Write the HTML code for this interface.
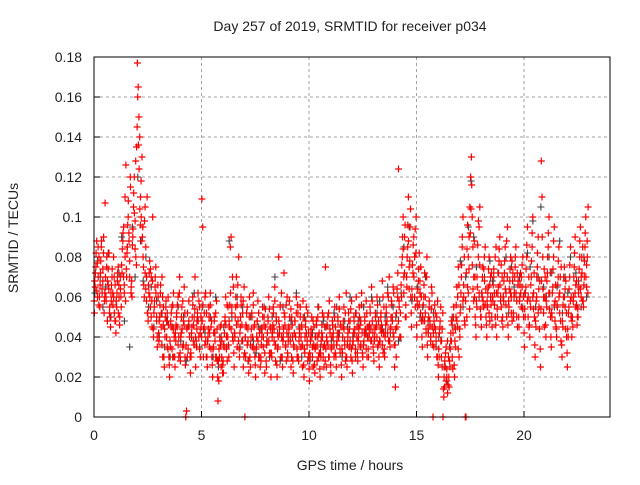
<!DOCTYPE html>
<html><head><meta charset="utf-8"><style>
body{margin:0;background:#fff}
svg text{font-family:"Liberation Sans",sans-serif;font-size:14px;fill:#222}
</style></head><body>
<svg width="640" height="480" id="c">
<text x="350" y="31" text-anchor="middle">Day 257 of 2019, SRMTID for receiver p034</text>
<text x="350" y="470" text-anchor="middle">GPS time / hours</text>
<text transform="translate(18,238) rotate(-90)" text-anchor="middle">SRMTID / TECUs</text>
</svg>
<script>
const binStarts=[0,0.25,0.5,0.75,1,1.25,1.5,1.75,2,2.25,2.5,2.75,3,3.25,3.5,3.75,4,4.25,4.5,4.75,5,5.25,5.5,5.75,6,6.25,6.5,6.75,7,7.25,7.5,7.75,8,8.25,8.5,8.75,9,9.25,9.5,9.75,10,10.25,10.5,10.75,11,11.25,11.5,11.75,12,12.25,12.5,12.75,13,13.25,13.5,13.75,14,14.25,14.5,14.75,15,15.25,15.5,15.75,16,16.25,16.5,16.75,17,17.25,17.5,17.75,18,18.25,18.5,18.75,19,19.25,19.5,19.75,20,20.25,20.5,20.75,21,21.25,21.5,21.75,22,22.25,22.5,22.75];
const redVals=[
[52,65,75,88,60,70,80],[55,72,85,62,68,90,58],[107,60,75,48,66,82,55],[45,58,70,62,80,52,66],
[42,55,68,75,60,50,64],[55,72,88,95,62,80,126],[70,85,100,92,78,115,65],[60,90,105,120,98,80,135],
[177,165,150,140,110,100,130],[95,75,60,105,85,70,52],[48,62,78,55,70,45,100],[40,55,65,75,50,35,60],
[38,50,62,45,70,30,55],[25,40,55,48,35,60,30],[20,35,45,55,30,62,40],[25,38,50,45,60,30,70],
[28,42,55,35,48,65,30],[0,3,30,45,58,40,22],[30,45,60,38,50,70,25],[35,48,62,40,55,30,45],
[109,95,30,45,60,38,52],[25,40,55,35,62,45,30],[20,35,50,42,30,58,28],[8,18,30,45,25,38,22],
[22,35,48,60,40,28,55],[30,45,85,90,55,40,65],[25,40,55,70,35,48,80],[30,45,60,38,52,25,65],
[0,30,45,55,38,22,60],[25,40,52,35,62,45,30],[20,35,48,58,30,42,25],[28,40,55,35,50,22,45],
[25,38,50,60,32,45,20],[30,42,55,38,65,28,48],[20,35,80,45,55,30,40],[25,40,72,50,35,28,60],
[30,45,58,38,25,50,40],[22,35,48,40,60,30,52],[28,42,55,35,45,25,50],[20,32,45,55,38,28,42],
[18,30,42,50,35,25,45],[22,35,48,28,40,55,32],[20,30,42,52,35,25,45],[75,25,38,50,30,58,42],
[22,35,48,40,30,55,45],[25,38,50,42,60,32,45],[20,32,45,55,38,28,62],[25,40,52,35,48,30,58],
[22,38,50,42,30,60,45],[28,40,55,35,48,62,32],[25,38,50,42,58,30,45],[30,42,55,38,65,48,35],
[28,40,52,45,60,35,48],[25,38,50,42,68,32,55],[30,42,55,48,62,38,70],[35,45,58,50,65,40,25],
[15,30,45,60,124,55,40],[40,60,80,100,70,90,50],[50,65,85,110,75,95,60],[45,60,72,90,80,55,100],
[40,55,68,82,62,75,48],[35,48,60,72,52,42,80],[30,42,55,48,38,65,45],[0,35,45,52,40,30,58],
[20,30,45,55,38,25,0],[10,15,25,35,20,12,30],[15,25,38,48,30,42,55],[20,35,50,65,45,75,30],
[40,55,70,85,100,60,48],[0,0,50,65,80,90,105],[120,130,100,85,70,60,50],[40,55,65,80,95,105,50],
[45,60,75,55,68,85,50],[40,55,65,80,48,60,72],[45,58,70,62,50,85,40],[50,65,78,90,60,55,70],
[45,58,72,85,62,50,95],[40,55,68,80,60,48,72],[50,62,75,85,58,45,68],[45,60,72,55,65,80,50],
[35,50,65,80,95,60,45],[40,55,70,85,100,62,50],[30,45,60,75,90,55,68],[25,128,110,80,60,45,70],
[40,55,72,85,100,62,50],[35,50,65,80,95,58,45],[40,55,70,85,62,48,75],[30,45,60,75,55,68,40],
[25,40,55,70,85,60,48],[45,60,75,90,55,68,50],[50,65,80,95,60,72,85],[55,70,85,100,65,80,105]];
const redVals2=[
[58,68,72,82,63,77,85,56],[60,66,78,88,64,74,82,52],[62,70,58,80,68,74,64,52],
[50,62,66,74,56,60,70,48],[48,58,62,72,52,66,46,70],[60,76,84,92,70,66,110,58],
[74,82,96,108,88,70,120,62],[68,86,94,112,102,84,128,76],[145,160,136,124,104,96,118,88],
[90,80,66,98,72,64,58,110],[52,66,72,60,74,50,58,68],[44,52,58,70,62,48,40,66],
[42,48,56,66,52,36,60,46],[30,44,50,58,40,52,34,46],[26,38,48,52,34,56,44,30],
[30,42,46,52,56,36,40,62],[32,40,50,44,58,36,46,52],[26,36,44,52,34,48,40,30],
[32,42,50,56,46,36,54,40],[38,44,52,48,58,34,42,50],[40,48,56,44,52,36,62,30],
[30,38,44,50,42,56,34,48],[26,34,42,48,38,52,30,44],[20,28,34,40,36,46,30,26],
[28,36,42,50,46,34,56,40],[36,48,56,62,44,52,70,38],[32,42,50,60,46,56,66,38],
[34,42,50,56,46,38,58,30],[32,40,46,52,36,44,28,50],[30,36,44,50,40,56,34,46],
[26,34,40,48,38,52,30,44],[30,36,44,50,40,46,32,54],[28,36,42,48,38,54,32,44],
[32,40,46,52,44,58,36,50],[26,34,40,48,42,56,30,62],[30,38,44,52,46,36,56,42],
[32,38,44,50,40,54,30,46],[28,36,42,48,40,52,34,56],[30,38,44,50,40,46,36,58],
[26,34,40,48,42,36,52,30],[24,32,38,44,40,30,48,36],[26,34,40,46,36,50,30,42],
[24,32,38,46,40,30,50,36],[28,34,40,46,36,52,30,44],[26,34,40,46,42,36,50,32],
[30,36,42,48,40,54,34,46],[26,34,40,48,44,36,52,30],[30,36,42,48,44,38,54,34],
[28,36,42,48,44,34,52,40],[32,38,44,50,46,36,56,42],[30,36,42,48,44,34,52,40],
[34,40,46,52,44,38,58,42],[32,38,44,50,46,40,56,36],[30,38,44,52,46,36,60,42],
[34,40,46,52,48,42,60,38],[38,44,50,56,48,42,62,36],[36,44,52,64,72,48,58,40],
[52,66,76,90,84,62,72,96],[56,70,80,96,88,64,78,104],[52,64,76,86,70,60,94,82],
[46,58,64,74,56,68,52,60],[40,50,56,66,48,60,44,70],[36,44,50,58,46,40,54,62],
[36,42,48,56,44,38,50,30],[26,34,42,48,38,30,44,52],[14,20,28,32,18,24,38,16],
[20,28,34,42,38,46,24,50],[26,38,44,56,48,60,34,66],[44,52,62,76,90,58,66,80],
[46,58,72,84,96,62,74,54],[92,104,116,76,64,58,88,70],[46,58,70,86,98,62,76,54],
[50,62,70,58,74,80,56,64],[46,58,62,74,52,66,70,56],[50,60,66,74,56,80,46,62],
[54,62,72,84,66,58,76,48],[50,60,68,78,64,56,88,70],[46,58,64,74,62,52,78,68],
[52,60,70,80,62,50,72,66],[50,58,66,62,70,76,54,60],[42,54,62,74,86,58,50,70],
[46,58,66,78,92,60,54,72],[36,48,58,70,82,52,64,44],[34,54,68,90,64,52,74,60],
[46,58,68,80,92,62,54,72],[40,52,62,74,88,56,48,66],[44,56,66,78,60,52,70,38],
[36,48,56,70,60,64,44,52],[32,44,52,64,76,58,50,40],[50,58,70,82,62,66,56,46],
[54,62,74,88,64,70,80,58],[58,66,78,92,70,76,88,62]];
const grayVals=[
[62,78],[70,55],[65,82],[50,60],[58,72],[90,48],[85,35],[95,70],[120,88],[68,80],[55,65],[45,58],
[40,52],[35,48],[30,45],[42,55],[38,50],[28,46],[40,62],[48,35],[55,42],[38,50],[30,60],[25,40],
[45,35],[88,50],[42,60],[35,55],[40,28],[50,38],[32,45],[44,55],[38,30],[50,70],[42,28],[55,35],
[40,48],[35,62],[45,30],[50,38],[28,42],[40,55],[35,48],[45,30],[38,52],[55,42],[30,48],[45,60],
[40,52],[48,35],[55,42],[45,60],[38,52],[58,44],[50,65],[42,55],[50,38],[62,85],[70,95],[58,80],
[65,50],[55,70],[48,40],[52,35],[40,30],[25,18],[35,50],[45,60],[78,55],[70,95],[118,90],[75,60],
[62,70],[55,78],[68,50],[72,60],[60,80],[52,75],[65,58],[70,55],[62,82],[75,98],[55,70],[105,65],
[60,80],[72,55],[65,88],[52,70],[62,80],[58,72],[68,55],[80,60]];
const yTicks=[0,0.02,0.04,0.06,0.08,0.1,0.12,0.14,0.16,0.18];
const yTickLabels=["0","0.02","0.04","0.06","0.08","0.1","0.12","0.14","0.16","0.18"];
const xTicks=[0,5,10,15,20];
const binWidth=0.25;

const L=94,R=610,T=57,B=417;
const xs=v=>L+v*(R-L)/24;
const ys=v=>B-v*(B-T)/0.18;
const svg=document.getElementById('c');
const NS='http://www.w3.org/2000/svg';
function mk(t,a){const e=document.createElementNS(NS,t);for(const k in a)e.setAttribute(k,a[k]);svg.appendChild(e);return e;}
yTicks.forEach((v,i)=>{
  if(i>0&&i<yTicks.length-1){const g=mk('line',{x1:L,x2:R,y1:ys(v),y2:ys(v),stroke:'#a0a0a0','stroke-dasharray':'3,3'});
  
  }
  const tk=mk('line',{x1:L,x2:L+6,y1:ys(v),y2:ys(v),stroke:'#000'});
  
  
  const t=mk('text',{x:L-12,y:ys(v)+5,'text-anchor':'end'});t.textContent=yTickLabels[i];
  
  
});
xTicks.forEach(v=>{
  if(v>0){const g=mk('line',{x1:xs(v),x2:xs(v),y1:T,y2:B,stroke:'#a0a0a0','stroke-dasharray':'3,3'});
  
  }
  const tk=mk('line',{x1:xs(v),x2:xs(v),y1:B,y2:B-6,stroke:'#000'});
  
  
  const t=mk('text',{x:xs(v),y:B+23,'text-anchor':'middle'});t.textContent=String(v);
  
  
});
function plus(x,y){return `M${(x-3.5).toFixed(1)} ${y.toFixed(1)}h7M${x.toFixed(1)} ${(y-3.5).toFixed(1)}v7`;}
let dg='';
grayVals.forEach((arr,i)=>arr.forEach((v,j)=>{dg+=plus(xs(binStarts[i]+(j+0.3)*binWidth/arr.length),ys(v/1000));}));
const pg=mk('path',{d:dg,stroke:'#404040','stroke-width':1.1,fill:'none'});


let dr='';
redVals.forEach((arr,i)=>arr.forEach((v,j)=>{dr+=plus(xs(binStarts[i]+(j+0.5)*binWidth/arr.length),ys(v/1000));}));
redVals2.forEach((arr,i)=>arr.forEach((v,j)=>{dr+=plus(xs(binStarts[i]+(j+0.1)*binWidth/arr.length),ys(v/1000));}));
const pr=mk('path',{d:dr,stroke:'#ff0000','stroke-width':1.2,fill:'none'});


const fr=mk('rect',{x:L,y:T,width:R-L,height:B-T,fill:'none',stroke:'#000'});


</script>
</body></html>
